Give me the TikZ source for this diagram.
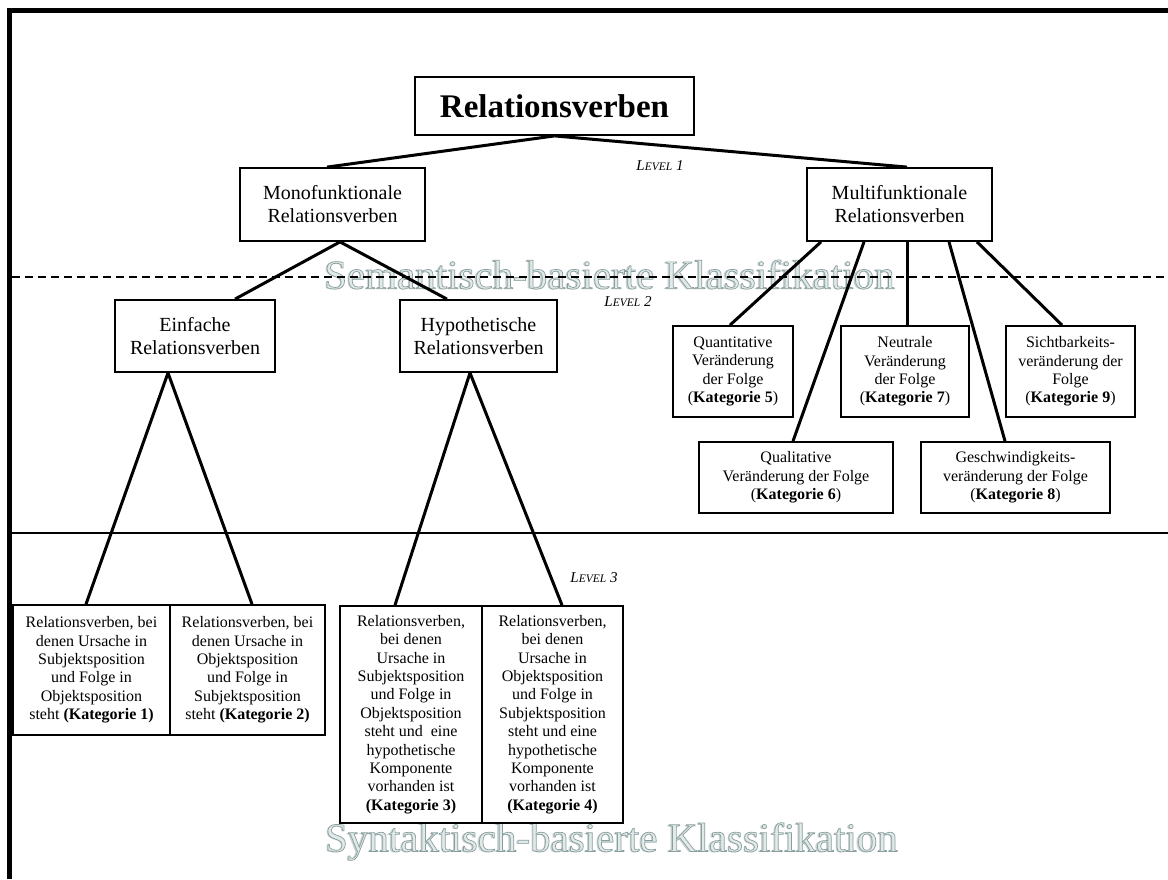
\documentclass[tikz,border=0pt]{standalone}
\usepackage{fontspec}
\setmainfont{Liberation Serif}
\usetikzlibrary{calc}
\definecolor{wmshadow}{HTML}{C4CFCF}
\definecolor{wmlight}{HTML}{E2E9E9}
\newcommand{\lvl}[1]{\itshape L{\fontsize{11.5}{14}\selectfont EVEL} #1}
\newcommand{\outl}[1]{\special{pdf:literal direct 2 Tr 0.7 w 0.54 0.62 0.62 RG}#1\special{pdf:literal direct 0 Tr 0.4 w 0 0 0 RG}}
\begin{document}
\begin{tikzpicture}[x=1pt,y=-1pt,
  box/.style={draw, line width=1.8pt, align=center, inner sep=0pt, fill=white},
  big/.style={font=\fontsize{20}{23}\selectfont},
  small/.style={font=\fontsize{16}{18.4}\selectfont},
  conn/.style={line width=3pt},
  lvlbl/.style={font=\fontsize{15}{18}\selectfont, inner sep=0pt},
  wms/.style={font=\fontsize{41}{45}\selectfont, text=wmshadow, inner sep=0pt},
  wml/.style={font=\fontsize{41}{45}\selectfont, text=wmlight, inner sep=0pt}]
\useasboundingbox (0,0) rectangle (1168,879);
\fill[white] (0,0) rectangle (1168,879);
% watermark labels
\node[wms] (semd) at (608.5,275.5) {Semantisch-basierte Klassifikation};
\node[wml] (seml) at (609.5,274.5) {\outl{Semantisch-basierte Klassifikation}};
\node[wms] (synd) at (610.5,842.5) {Syntaktisch-basierte Klassifikation};
\node[wml] (synl) at (611.5,841.5) {\outl{Syntaktisch-basierte Klassifikation}};
% frame
\draw[line width=5pt] (9.5,879) -- (9.5,10.5) -- (1168,10.5);
\draw[line width=2pt] (12,533) -- (1168,533);
\draw[line width=1.3pt, dash pattern=on 8pt off 5pt] (12,277) -- (1168,277);
% level labels
\node[lvlbl] (l1) at (660,166) {\lvl{1}};
\node[lvlbl] (l2) at (628,302) {\lvl{2}};
\node[lvlbl] (l3) at (594,578) {\lvl{3}};
% nodes
\node[box, minimum width=279pt, minimum height=58pt, font=\fontsize{33}{38}\selectfont\bfseries] (root) at (554.5,106) {Relationsverben};
\node[box, big, minimum width=185pt, minimum height=73pt] (mono) at (332.5,204.5) {Monofunktionale\\Relationsverben};
\node[box, big, minimum width=185pt, minimum height=73pt] (multi) at (899.5,204.5) {Multifunktionale\\Relationsverben};
\node[box, big, minimum width=160pt, minimum height=72pt] (einf) at (195,336) {Einfache\\Relationsverben};
\node[box, big, minimum width=157pt, minimum height=72pt] (hypo) at (478.5,336) {Hypothetische\\Relationsverben};
\node[box, small, minimum width=120pt, minimum height=91pt] (k5) at (733,371.5) {Quantitative\\Veränderung\\der Folge\\(\textbf{Kategorie 5})};
\node[box, small, minimum width=128pt, minimum height=91pt] (k7) at (905,371.5) {Neutrale\\Veränderung\\der Folge\\(\textbf{Kategorie 7})};
\node[box, small, minimum width=129pt, minimum height=91pt] (k9) at (1070.5,371.5) {Sichtbarkeits-\\veränderung der\\Folge\\(\textbf{Kategorie 9})};
\node[box, small, minimum width=194pt, minimum height=71pt] (k6) at (796,477.5) {Qualitative\\Veränderung der Folge\\(\textbf{Kategorie 6})};
\node[box, small, minimum width=189pt, minimum height=71pt] (k8) at (1015.5,477.5) {Geschwindigkeits-\\veränderung der Folge\\(\textbf{Kategorie 8})};
\node[box, small, minimum width=157pt, minimum height=130pt] (k1) at (91.5,670) {Relationsverben, bei\\denen Ursache in\\Subjektsposition\\und Folge in\\Objektsposition\\steht \textbf{(Kategorie 1)}};
\node[box, small, minimum width=155pt, minimum height=130pt] (k2) at (247.5,670) {Relationsverben, bei\\denen Ursache in\\Objektsposition\\und Folge in\\Subjektsposition\\steht \textbf{(Kategorie 2)}};
\node[box, small, minimum width=142pt, minimum height=217pt] (k3) at (411,714.5) {Relationsverben,\\bei denen\\Ursache in\\Subjektsposition\\und Folge in\\Objektsposition\\steht und\ \ eine\\hypothetische\\Komponente\\vorhanden ist\\\textbf{(Kategorie 3)}};
\node[box, small, minimum width=141pt, minimum height=217pt] (k4) at (552.5,714.5) {Relationsverben,\\bei denen\\Ursache in\\Objektsposition\\und Folge in\\Subjektsposition\\steht und eine\\hypothetische\\Komponente\\vorhanden ist\\\textbf{(Kategorie 4)}};
% connectors
\draw[conn] (root.south) -- ([xshift=-5.5pt]mono.north);
\draw[conn] (root.south) -- ([xshift=7.5pt]multi.north);
\draw[conn] ([xshift=7.5pt]mono.south) -- ([xshift=40pt]einf.north);
\draw[conn] ([xshift=7.5pt]mono.south) -- ([xshift=-31.5pt]hypo.north);
\draw[conn] ([xshift=-27pt]einf.south) -- ([xshift=-5.5pt]k1.north);
\draw[conn] ([xshift=-27pt]einf.south) -- ([xshift=4.5pt]k2.north);
\draw[conn] ([xshift=-8.5pt]hypo.south) -- ([xshift=-16pt]k3.north);
\draw[conn] ([xshift=-8.5pt]hypo.south) -- ([xshift=9.5pt]k4.north);
\draw[conn] ([xshift=-78.5pt]multi.south) -- ([xshift=-3pt]k5.north);
\draw[conn] ([xshift=-35.5pt]multi.south) -- ([xshift=-3pt]k6.north);
\draw[conn] ([xshift=7.5pt]multi.south) -- ([xshift=2pt]k7.north);
\draw[conn] ([xshift=49.5pt]multi.south) -- ([xshift=-10.5pt]k8.north);
\draw[conn] ([xshift=77.5pt]multi.south) -- ([xshift=-8.5pt]k9.north);
\end{tikzpicture}
\end{document}
